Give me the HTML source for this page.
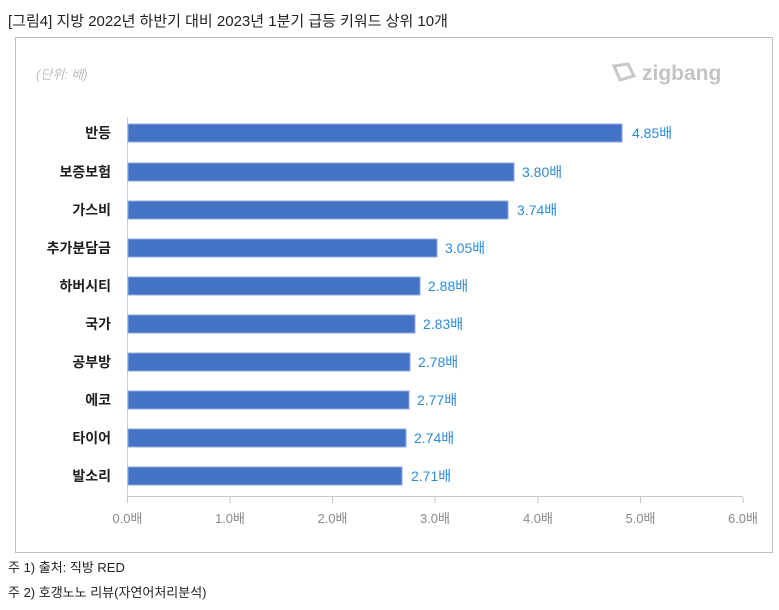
<!DOCTYPE html><html><head><meta charset="utf-8"><style>
body{margin:0;background:#fff;width:779px;height:605px;overflow:hidden;font-family:"Liberation Sans","Noto Sans CJK KR",sans-serif}
</style></head><body>
<svg width="779" height="605" xmlns="http://www.w3.org/2000/svg" font-family="Liberation Sans, Noto Sans CJK KR, sans-serif">
<text x="8" y="26" font-size="15" fill="#222">[그림4] 지방 2022년 하반기 대비 2023년 1분기 급등 키워드 상위 10개</text>
<rect x="15.5" y="37.5" width="757" height="515" fill="#fff" stroke="#bfbfbf"/>
<text x="36" y="79" font-size="13" fill="#bbb" font-style="italic">(단위: 배)</text>
<g fill="none" stroke="#c8c8c8" stroke-width="3"><path d="M614 66 L628 64 L634 76 L620 80 Z"/></g>
<text x="642" y="80" font-size="21" fill="#c4c4c4" font-weight="bold">zigbang</text>
<line x1="127.5" y1="117" x2="127.5" y2="497" stroke="#d0d0d0"/>
<line x1="127" y1="496.5" x2="743" y2="496.5" stroke="#c8c8c8"/>
<g stroke="#c8c8c8">
<line x1="127.5" y1="497" x2="127.5" y2="503"/><line x1="230" y1="497" x2="230" y2="503"/><line x1="332.5" y1="497" x2="332.5" y2="503"/><line x1="435" y1="497" x2="435" y2="503"/><line x1="538" y1="497" x2="538" y2="503"/><line x1="640.5" y1="497" x2="640.5" y2="503"/><line x1="743" y1="497" x2="743" y2="503"/>
</g>
<g font-size="13" fill="#8a8a8a" text-anchor="middle">
<text x="127.5" y="523">0.0배</text><text x="230" y="523">1.0배</text><text x="332.5" y="523">2.0배</text><text x="435" y="523">3.0배</text><text x="538" y="523">4.0배</text><text x="640.5" y="523">5.0배</text><text x="743" y="523">6.0배</text>
</g>
<g fill="#4472c4" stroke="#8faadc" stroke-width="1">
<rect x="128" y="124" width="494" height="18"/>
<rect x="128" y="163" width="386" height="18"/>
<rect x="128" y="201" width="380" height="18"/>
<rect x="128" y="239" width="309" height="18"/>
<rect x="128" y="277" width="292" height="18"/>
<rect x="128" y="315" width="287" height="18"/>
<rect x="128" y="353" width="282" height="18"/>
<rect x="128" y="391" width="281" height="18"/>
<rect x="128" y="429" width="278" height="18"/>
<rect x="128" y="467" width="274" height="18"/>
</g>
<g font-size="14" fill="#1f1f1f" font-weight="bold" text-anchor="end">
<text x="111" y="138">반등</text><text x="111" y="177">보증보험</text><text x="111" y="215">가스비</text><text x="111" y="253">추가분담금</text><text x="111" y="291">하버시티</text><text x="111" y="329">국가</text><text x="111" y="367">공부방</text><text x="111" y="405">에코</text><text x="111" y="443">타이어</text><text x="111" y="481">발소리</text>
</g>
<g font-size="14" fill="#2e8bd8">
<text x="632" y="138">4.85배</text><text x="522" y="177">3.80배</text><text x="517" y="215">3.74배</text><text x="445" y="253">3.05배</text><text x="428" y="291">2.88배</text><text x="423" y="329">2.83배</text><text x="418" y="367">2.78배</text><text x="417" y="405">2.77배</text><text x="414" y="443">2.74배</text><text x="411" y="481">2.71배</text>
</g>
<text x="8" y="572" font-size="13" fill="#222">주 1)  출처:  직방 RED</text>
<text x="8" y="597" font-size="13" fill="#222">주 2)  호갱노노  리뷰(자연어처리분석)</text>
</svg>
</body></html>
